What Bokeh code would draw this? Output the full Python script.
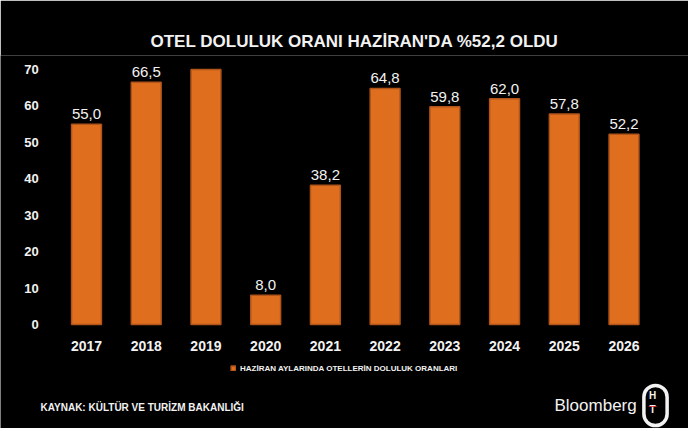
from bokeh.plotting import figure
from bokeh.models import (ColumnDataSource, Range1d, FixedTicker,
                          LabelSet, Label, Legend, LegendItem)
from bokeh.core.properties import value
from bokeh.embed import file_html
from bokeh.resources import INLINE

# data
years = ["2017", "2018", "2019", "2020", "2021", "2022", "2023", "2024", "2025", "2026"]
occupancy = [55.0, 66.5, 70.0, 8.0, 38.2, 64.8, 59.8, 62.0, 57.8, 52.2]
y_ticks = [0, 10, 20, 30, 40, 50, 60, 70]

title_text = "OTEL DOLULUK ORANI HAZİRAN'DA %52,2 OLDU"
series_name = "HAZİRAN AYLARINDA OTELLERİN DOLULUK ORANLARI"
source_text = "KAYNAK: KÜLTÜR VE TURİZM BAKANLIĞI"

Y_MAX = 70
# the 2019 bar runs off the axis top, so it carries no value label
labels = [("%.1f" % v).replace(".", ",") if v < Y_MAX else "" for v in occupancy]
pos = list(range(len(years)))

src = ColumnDataSource(data=dict(x=pos, val=occupancy, lab=labels))

BAR = "#DF6F1E"
EDGE = "#B0541A"
WHITE = "#F2F2F2"
SANS = "Liberation Sans"

# the frame covers the whole black card below the title, so that the footer
# texts and legend (drawn in the frame) are not clipped; axes are pinned
W, H = 688, 428
p = figure(
    x_range=Range1d(-1.44, 10.08),
    y_range=Range1d(-28.55, 73.84),
    width=W, height=H,
    output_backend="svg",
    toolbar_location=None,
    min_border_left=0, min_border_right=0,
    min_border_top=55, min_border_bottom=0,
)
p.background_fill_color = "black"
p.border_fill_color = "black"
p.outline_line_color = None
p.xgrid.grid_line_color = None
p.ygrid.grid_line_color = None

bars = p.vbar(x="x", top="val", width=0.5, source=src,
              fill_color=BAR, line_color=EDGE, line_width=1.5)

# value labels above the bars
p.add_layout(LabelSet(x="x", y="val", text="lab", source=src,
                      text_align="center", text_baseline="bottom", y_offset=5,
                      text_color=WHITE, text_font=value(SANS),
                      text_font_size=value("15px")))

# axes
p.xaxis.fixed_location = 0
p.yaxis.fixed_location = -0.5
p.xaxis.ticker = FixedTicker(ticks=pos)
p.xaxis.major_label_overrides = {i: y for i, y in enumerate(years)}
p.yaxis.ticker = FixedTicker(ticks=y_ticks)
for ax in (p.xaxis, p.yaxis):
    ax.axis_line_color = None
    ax.major_tick_line_color = None
    ax.minor_tick_line_color = None
    ax.major_label_text_color = WHITE
    ax.major_label_text_font = SANS
    ax.major_label_text_font_style = "bold"
p.yaxis.major_label_text_font_size = "13px"
p.yaxis.major_label_standoff = 12
p.xaxis.major_label_text_font_size = "14px"
p.xaxis.major_label_standoff = 11

# title
p.title.text = title_text
p.title.align = "left"
p.title.offset = 150
p.title.text_color = WHITE
p.title.text_font = SANS
p.title.text_font_style = "bold"
p.title.text_font_size = "17px"
p.title.standoff = 9

# legend under the year labels (screen position from the frame's bottom-left)
legend = Legend(items=[LegendItem(label=series_name, renderers=[bars])],
                location=(230, 55), orientation="horizontal",
                background_fill_color="black", border_line_color=None,
                label_text_color=WHITE, label_text_font=SANS,
                label_text_font_style="bold", label_text_font_size="8px",
                glyph_width=6, glyph_height=6, label_standoff=4,
                padding=2, margin=0, label_height=10)
p.add_layout(legend)

# footer texts (screen pixels from the frame's bottom-left)
p.add_layout(Label(x=40, y=21, x_units="screen", y_units="screen",
                   text=source_text, text_color=WHITE, text_font=SANS,
                   text_font_style="bold", text_font_size="10px",
                   text_baseline="middle"))
p.add_layout(Label(x=554, y=23, x_units="screen", y_units="screen",
                   text="Bloomberg", text_color=WHITE, text_font=SANS,
                   text_font_size="17px", text_baseline="middle"))
# HT logo: a ring with H over T and a red bar between them
p.add_layout(Label(x=655, y=23, x_units="screen", y_units="screen",
                   text="H\nT", text_color=WHITE, text_font=SANS,
                   text_font_style="bold", text_font_size="10px",
                   text_align="center", text_baseline="middle",
                   border_line_color=WHITE, border_line_width=3.5,
                   border_radius=16, padding=(5, 11, 5, 11)))
p.add_layout(Label(x=652, y=23, x_units="screen", y_units="screen",
                   text="—", text_color="#E3262D", text_font=SANS,
                   text_font_style="bold", text_font_size="8px",
                   text_align="center", text_baseline="middle"))

open("out.html", "w").write(file_html(p, INLINE))
